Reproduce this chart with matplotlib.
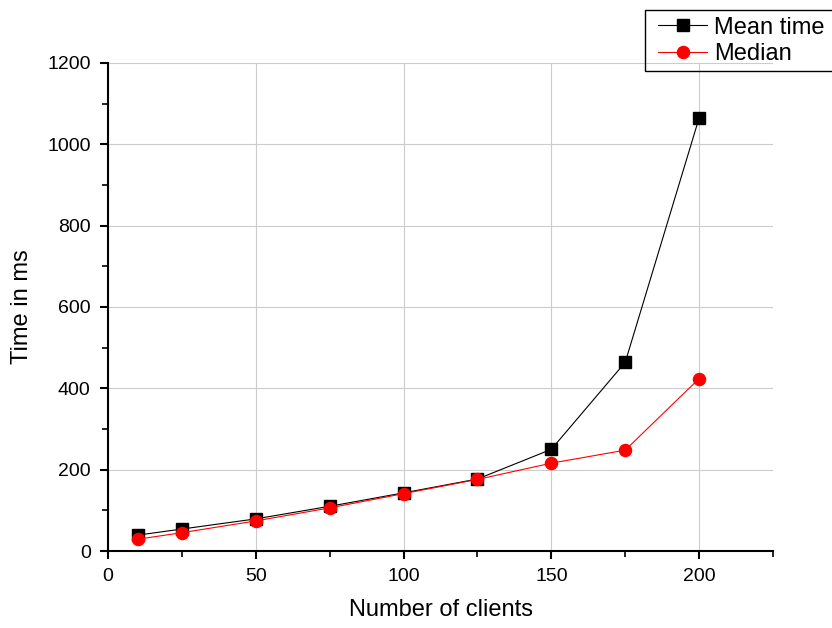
import numpy as np
import matplotlib.pyplot as plt
from matplotlib.patches import Rectangle

plt.rcParams['font.family'] = ['Liberation Sans', 'DejaVu Sans']

clients = [10, 25, 50, 75, 100, 125, 150, 175, 200]
mean_time = [39, 54, 79, 110, 143, 177, 250, 464, 1065]
median = [29, 45, 74, 106, 141, 176, 216, 248, 424]

W, H = 832, 628
fig = plt.figure(figsize=(W / 100, H / 100), dpi=100)
ax = fig.add_axes([0.1298, 0.1226, 0.7993, 0.7771])

ax.plot(clients, mean_time, color='black', lw=0.8, marker='s', ms=8,
        label='Mean time', zorder=3)
ax.plot(clients, median, color='red', lw=0.8, marker='o', ms=8.7,
        label='Median', zorder=4)

ax.set_xlim(0, 225)
ax.set_ylim(0, 1200)
ax.set_xticks([0, 50, 100, 150, 200])
ax.set_xticks([25, 75, 125, 175, 225], minor=True)
ax.set_yticks(np.arange(0, 1201, 200))
ax.set_yticks(np.arange(100, 1200, 200), minor=True)
ax.grid(True, which='major', color='#cccccc', lw=0.8)
ax.set_axisbelow(True)

for s in ['top', 'right']:
    ax.spines[s].set_visible(False)
for s in ['left', 'bottom']:
    ax.spines[s].set_linewidth(1.5)
ax.tick_params(which='major', direction='out', length=6, width=1.5,
               labelsize=14, pad=6.5)
ax.tick_params(which='minor', direction='out', length=4, width=1.2)

ax.set_xlabel('Number of clients', fontsize=17, labelpad=10)
ax.set_ylabel('Time in ms', fontsize=17, labelpad=10)

# legend box runs off the right edge like the original
fig.patches.append(Rectangle((645 / W, 1 - 71 / H), 0.3, 61 / H,
                             transform=fig.transFigure, fill=False,
                             edgecolor='black', lw=1.0))
fig.legend(loc='upper left', bbox_to_anchor=(653 / W, 1 - 12 / H),
           fontsize=17, frameon=False, borderaxespad=0, handlelength=2.1,
           handletextpad=0.3, borderpad=0.2, labelspacing=0.2)

fig.savefig('out.png', dpi=100)
